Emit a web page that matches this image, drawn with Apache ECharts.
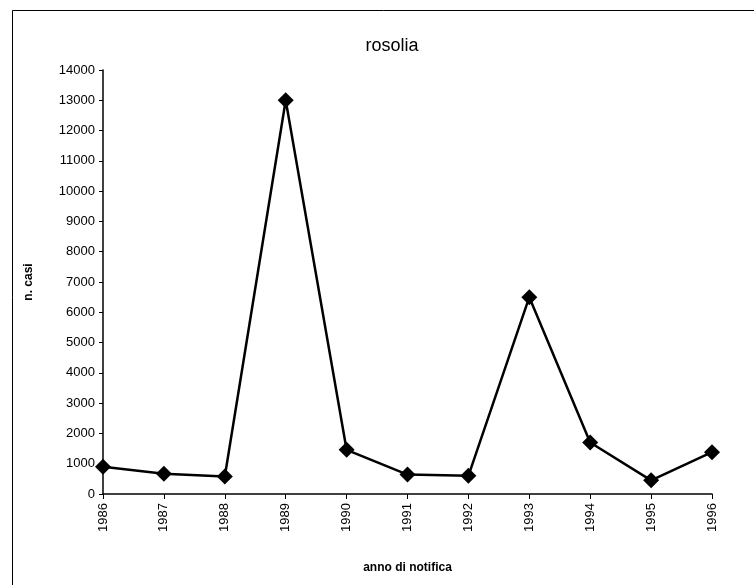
<!DOCTYPE html>
<html>
<head>
<meta charset="utf-8">
<script src="https://cdn.jsdelivr.net/npm/echarts@6/dist/echarts.min.js"></script>
<style>
  html, body { margin: 0; padding: 0; background: #fff; }
  #main { width: 754px; height: 585px; }
</style>
</head>
<body>
<div id="main"></div>
<script>
var anni = ['1986', '1987', '1988', '1989', '1990', '1991', '1992', '1993', '1994', '1995', '1996'];
var casi = [900, 670, 580, 13000, 1460, 640, 600, 6500, 1700, 450, 1380];

var dom = document.getElementById('main');
var myChart = echarts.init(dom);

var option = {
	backgroundColor: '#fff',
	animation: false,
	title: {
		text: 'rosolia',
		left: 387,
		top: 32,
		textAlign: 'center',
		textStyle: {
			fontFamily: 'Liberation Sans',
			fontSize: 18,
			fontWeight: 'normal',
			color: '#000'
		}
	},
	graphic: [{
		type: 'polyline',
		shape: { points: [[12.5, 585], [12.5, 10.5], [754, 10.5]] },
		style: { stroke: '#000', lineWidth: 1, fill: null }
	}],
	grid: {
		left: 103,
		right: 42,
		top: 70,
		bottom: 91
	},
	xAxis: {
		type: 'category',
		data: anni,
		boundaryGap: false,
		name: 'anno di notifica',
		nameLocation: 'middle',
		nameGap: 68,
		nameTextStyle: {
			fontFamily: 'Liberation Sans',
			fontSize: 12,
			fontWeight: 'bold',
			color: '#000'
		},
		axisLine: { lineStyle: { color: '#000', width: 1.5 } },
		axisTick: { alignWithLabel: true, length: 5, lineStyle: { color: '#000' } },
		axisLabel: {
			rotate: 90,
			margin: 9,
			fontFamily: 'Liberation Sans',
			fontSize: 13,
			color: '#000'
		},
		splitLine: { show: false }
	},
	yAxis: {
		type: 'value',
		min: 0,
		max: 14000,
		interval: 1000,
		name: 'n. casi',
		nameLocation: 'middle',
		nameGap: 68,
		nameTextStyle: {
			fontFamily: 'Liberation Sans',
			fontSize: 12,
			fontWeight: 'bold',
			color: '#000'
		},
		axisLine: { show: true, lineStyle: { color: '#000', width: 1.5 } },
		axisTick: { show: true, length: 4, lineStyle: { color: '#000' } },
		axisLabel: {
			margin: 8,
			fontFamily: 'Liberation Sans',
			fontSize: 13,
			color: '#000',
			formatter: function (v) { return String(v); }
		},
		splitLine: { show: false }
	},
	series: [{
		type: 'line',
		data: casi,
		symbol: 'diamond',
		symbolSize: 16,
		lineStyle: { color: '#000', width: 2.5 },
		itemStyle: { color: '#000' }
	}]
};
myChart.setOption(option);
</script>
</body>
</html>
